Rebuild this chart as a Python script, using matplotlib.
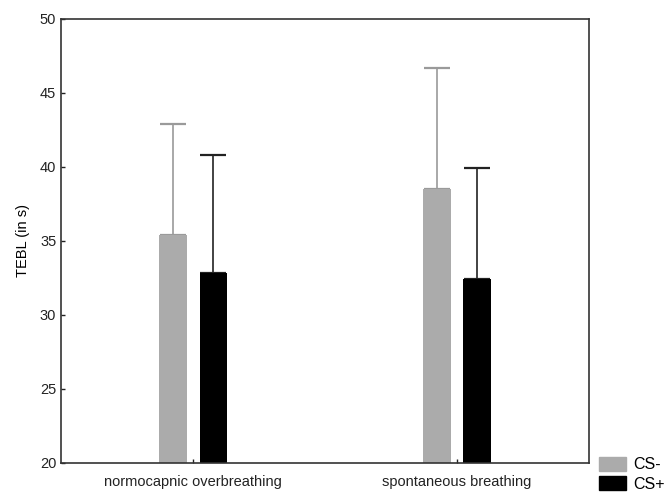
import matplotlib.pyplot as plt
import numpy as np
from matplotlib.patches import Patch

plt.rcParams['font.family'] = ['Liberation Sans', 'DejaVu Sans']

conditions = ['normocapnic overbreathing', 'spontaneous breathing']
cs_minus = [35.4, 38.5]
cs_minus_err = [7.5, 8.2]
cs_plus = [32.8, 32.4]
cs_plus_err = [8.0, 7.55]

gray = '#ababab'
x = np.arange(len(conditions))
w = 0.103
off = 0.076

fig = plt.figure(figsize=(6.64, 4.92), dpi=100)
ax = fig.add_axes([0.092, 0.059, 0.795, 0.903])

ax.bar(x - off, cs_minus, w, bottom=0, color=gray, zorder=2)
ax.bar(x + off, cs_plus, w, bottom=0, color='black', zorder=2)
ax.errorbar(x - off, cs_minus, yerr=[np.zeros(2), cs_minus_err], fmt='none',
            ecolor='#9a9a9a', elinewidth=1.2, capsize=9.7, capthick=1.6, zorder=1)
ax.errorbar(x + off, cs_plus, yerr=[np.zeros(2), cs_plus_err], fmt='none',
            ecolor='#222222', elinewidth=1.2, capsize=9.7, capthick=1.6, zorder=1)

ax.set_xlim(-0.5, 1.5)
ax.set_ylim(20, 50)
ax.set_yticks(np.arange(20, 51, 5))
ax.set_xticks(x)
ax.set_xticklabels(conditions)
ax.tick_params(direction='in', length=3, width=1, labelsize=10.5, colors='#222222')
ax.tick_params(axis='x', pad=9)
for s in ax.spines.values():
    s.set_linewidth(1.2)
    s.set_color('#333333')
ax.set_ylabel('TEBL (in s)', fontsize=10.5, labelpad=7)

handles = [Patch(color=gray, label='CS-'), Patch(color='black', label='CS+')]
fig.legend(handles=handles, loc='lower left', bbox_to_anchor=(0.893, -0.012),
           frameon=False, fontsize=11.5, handlelength=1.7, handleheight=1.05,
           labelspacing=0.2, handletextpad=0.45, borderaxespad=0)

fig.savefig('out.png', dpi=100)
